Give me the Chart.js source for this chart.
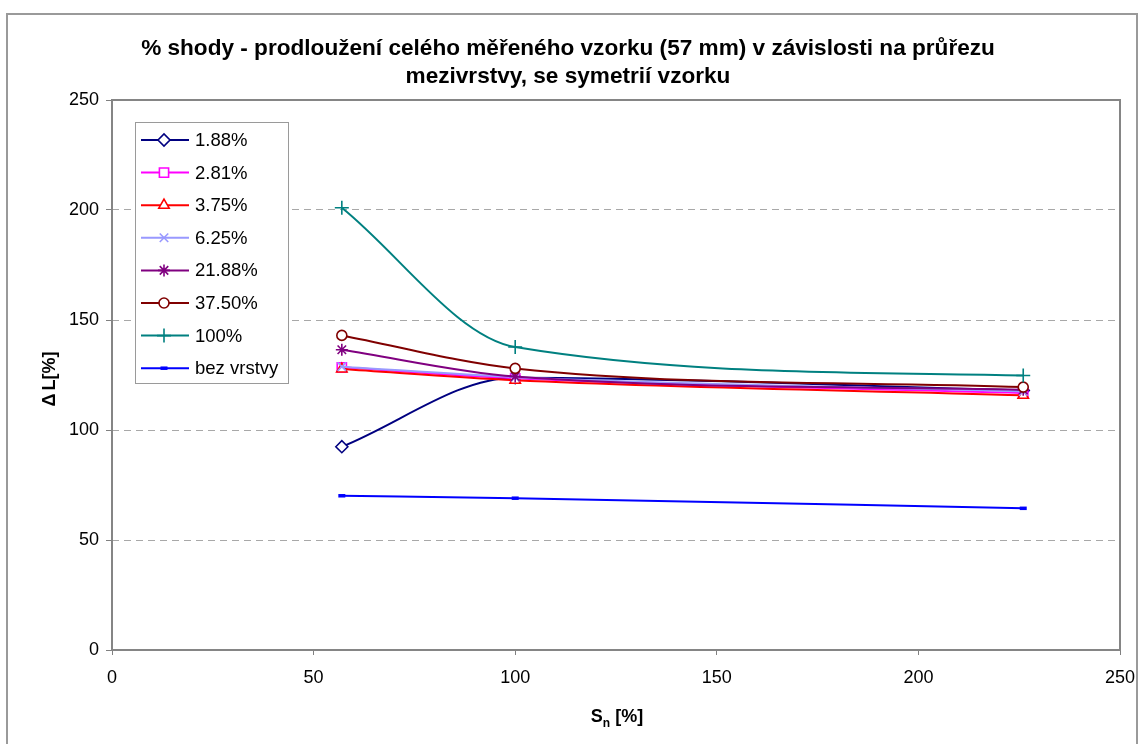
<!DOCTYPE html>
<html>
<head>
<meta charset="utf-8">
<title>% shody - prodloužení celého měřeného vzorku</title>
<script src="https://cdn.jsdelivr.net/npm/chart.js"></script>
<style>
  html, body { margin: 0; padding: 0; background: #fff; }
  #wrap { position: relative; width: 1139px; height: 744px; }
</style>
</head>
<body>
<div id="wrap"><canvas id="chart" width="1139" height="744"></canvas></div>
<script>
// průřez mezivrstvy S_n [%]
const crossSections = [57, 100, 226];

// ΔL [%] for each interlayer share
const dl188 = [92.4, 123.8, 118.0];
const dl281 = [128.5, 123.5, 116.8];
const dl375 = [127.7, 122.6, 115.8];
const dl625 = [128.8, 124.0, 117.5];
const dl2188 = [136.5, 124.3, 118.3];
const dl3750 = [143.0, 128.0, 119.5];
const dl100 = [201.0, 137.7, 124.8];
const dlBez = [70.1, 69.0, 64.4];

const seriesLabels = ['1.88%', '2.81%', '3.75%', '6.25%', '21.88%', '37.50%', '100%', 'bez vrstvy'];
const seriesValues = [dl188, dl281, dl375, dl625, dl2188, dl3750, dl100, dlBez];

const xTicks = [0, 50, 100, 150, 200, 250];
const yTicks = [0, 50, 100, 150, 200, 250];

const titleLines = ['% shody - prodloužení celého měřeného vzorku (57 mm) v závislosti na průřezu',
                    'mezivrstvy, se symetrií vzorku'];

// marker look per series
const colors = ['#000080', '#FF00FF', '#FF0000', '#9999FF', '#800080', '#800000', '#008080', '#0000FF'];
const markers = [
  { style: 'rectRot', r: 6, w: 1.6, fill: '#fff' },
  { style: 'rect', r: 6.5, w: 1.6, fill: '#fff' },
  { style: 'triangle', r: 6, w: 1.6, fill: '#fff' },
  { style: 'crossRot', r: 6, w: 1.6, fill: '#fff' },
  { style: 'star', r: 6, w: 1.6, fill: '#fff' },
  { style: 'circle', r: 5, w: 1.6, fill: '#fff' },
  { style: 'cross', r: 7, w: 1.6, fill: '#fff' },
  { style: 'line', r: 3.5, w: 3.5, fill: '#0000FF' }
];

const FONT = '"Liberation Sans", Arial, sans-serif';

const datasets = seriesLabels.map((label, i) => ({
  label,
  data: crossSections.map((x, k) => ({ x, y: seriesValues[i][k] })),
  borderColor: colors[i],
  backgroundColor: colors[i],
  borderWidth: 2,
  cubicInterpolationMode: 'monotone',
  pointStyle: markers[i].style,
  pointRadius: markers[i].r,
  pointBorderWidth: markers[i].w,
  pointBorderColor: colors[i],
  pointBackgroundColor: markers[i].fill,
  order: seriesLabels.length - i   // later series on top
}));

const decor = {
  id: 'decor',
  beforeDraw(chart) {
    const ctx = chart.ctx;
    ctx.save();
    ctx.fillStyle = '#fff';
    ctx.fillRect(0, 0, chart.width, chart.height);
    // outer frame
    ctx.strokeStyle = '#9a9a9a';
    ctx.lineWidth = 2;
    ctx.strokeRect(7, 14, 1130, 760);
    ctx.restore();
  },
  beforeDatasetsDraw(chart) {
    const { ctx, chartArea: a } = chart;
    ctx.save();
    ctx.strokeStyle = '#858585';
    ctx.lineWidth = 2;
    ctx.strokeRect(a.left, a.top, a.right - a.left, a.bottom - a.top);
    ctx.restore();
  },
  afterDraw(chart) {
    const ctx = chart.ctx;
    ctx.save();
    ctx.fillStyle = '#000';

    // title
    ctx.font = 'bold 22.6px ' + FONT;
    ctx.textAlign = 'center';
    ctx.textBaseline = 'alphabetic';
    ctx.fillText(titleLines[0], 568, 55);
    ctx.fillText(titleLines[1], 568, 83);

    // x axis title: S with subscript n
    ctx.textAlign = 'left';
    const big = 'bold 18px ' + FONT, small = 'bold 12px ' + FONT;
    ctx.font = big;
    const wS = ctx.measureText('S').width;
    const wRest = ctx.measureText(' [%]').width;
    ctx.font = small;
    const wN = ctx.measureText('n').width;
    let x0 = 617 - (wS + wN + wRest) / 2;
    ctx.font = big;
    ctx.fillText('S', x0, 722);
    ctx.font = small;
    ctx.fillText('n', x0 + wS, 727);
    ctx.font = big;
    ctx.fillText(' [%]', x0 + wS + wN, 722);

    // y axis title
    ctx.translate(50, 379);
    ctx.rotate(-Math.PI / 2);
    ctx.font = big;
    ctx.textBaseline = 'middle';
    const wD = ctx.measureText('Δ').width, wL = ctx.measureText('L[%]').width;
    const gap = 3;
    const y0 = -(wD + gap + wL) / 2;
    ctx.fillText('Δ', y0, 0);
    ctx.fillText('L[%]', y0 + wD + gap, 0);
    ctx.setTransform(1, 0, 0, 1, 0, 0);

    // legend box inside the plot
    const bx = 135, by = 122, bw = 153, bh = 261;
    ctx.fillStyle = '#fff';
    ctx.fillRect(bx, by, bw, bh);
    ctx.strokeStyle = '#9a9a9a';
    ctx.lineWidth = 1;
    ctx.strokeRect(bx + 0.5, by + 0.5, bw, bh);
    ctx.font = '18.5px ' + FONT;
    ctx.textBaseline = 'middle';
    ctx.textAlign = 'left';
    seriesLabels.forEach((label, i) => {
      const y = 140 + i * 32.6;
      ctx.strokeStyle = colors[i];
      ctx.lineWidth = 2;
      ctx.beginPath();
      ctx.moveTo(141, y);
      ctx.lineTo(189, y);
      ctx.stroke();
      ctx.fillStyle = markers[i].fill;
      ctx.lineWidth = markers[i].w;
      Chart.helpers.drawPoint(ctx, { pointStyle: markers[i].style, radius: markers[i].r, borderWidth: markers[i].w, rotation: 0 }, 164, y);
      ctx.fillStyle = '#000';
      ctx.fillText(label, 195, y + 1);
    });
    ctx.restore();
  }
};

new Chart(document.getElementById('chart').getContext('2d'), {
  type: 'line',
  data: { datasets },
  options: {
    responsive: false,
    animation: false,
    layout: { padding: { left: 0, top: 100, right: 19, bottom: 0 } },
    plugins: {
      legend: { display: false },
      title: { display: false },
      tooltip: { enabled: false }
    },
    scales: {
      x: {
        type: 'linear',
        min: 0, max: 250,
        afterFit: s => { s.height = 94; s.paddingLeft = 0; s.paddingRight = 0; },
        afterBuildTicks: s => { s.ticks = xTicks.map(v => ({ value: v })); },
        grid: { drawOnChartArea: false, drawTicks: true, tickLength: 5, color: '#808080' },
        border: { display: false },
        ticks: { color: '#000', font: { size: 18, family: FONT }, padding: 12, maxRotation: 0 }
      },
      y: {
        type: 'linear',
        min: 0, max: 250,
        afterFit: s => { s.width = 112; s.paddingTop = 0; s.paddingBottom = 0; },
        afterBuildTicks: s => { s.ticks = yTicks.map(v => ({ value: v })); },
        grid: { color: '#a8a8a8', tickColor: '#808080', tickLength: 6 },
        border: { display: false, dash: [7, 5] },
        ticks: { color: '#000', font: { size: 18, family: FONT }, padding: 7 }
      }
    }
  },
  plugins: [decor]
});
</script>
</body>
</html>
